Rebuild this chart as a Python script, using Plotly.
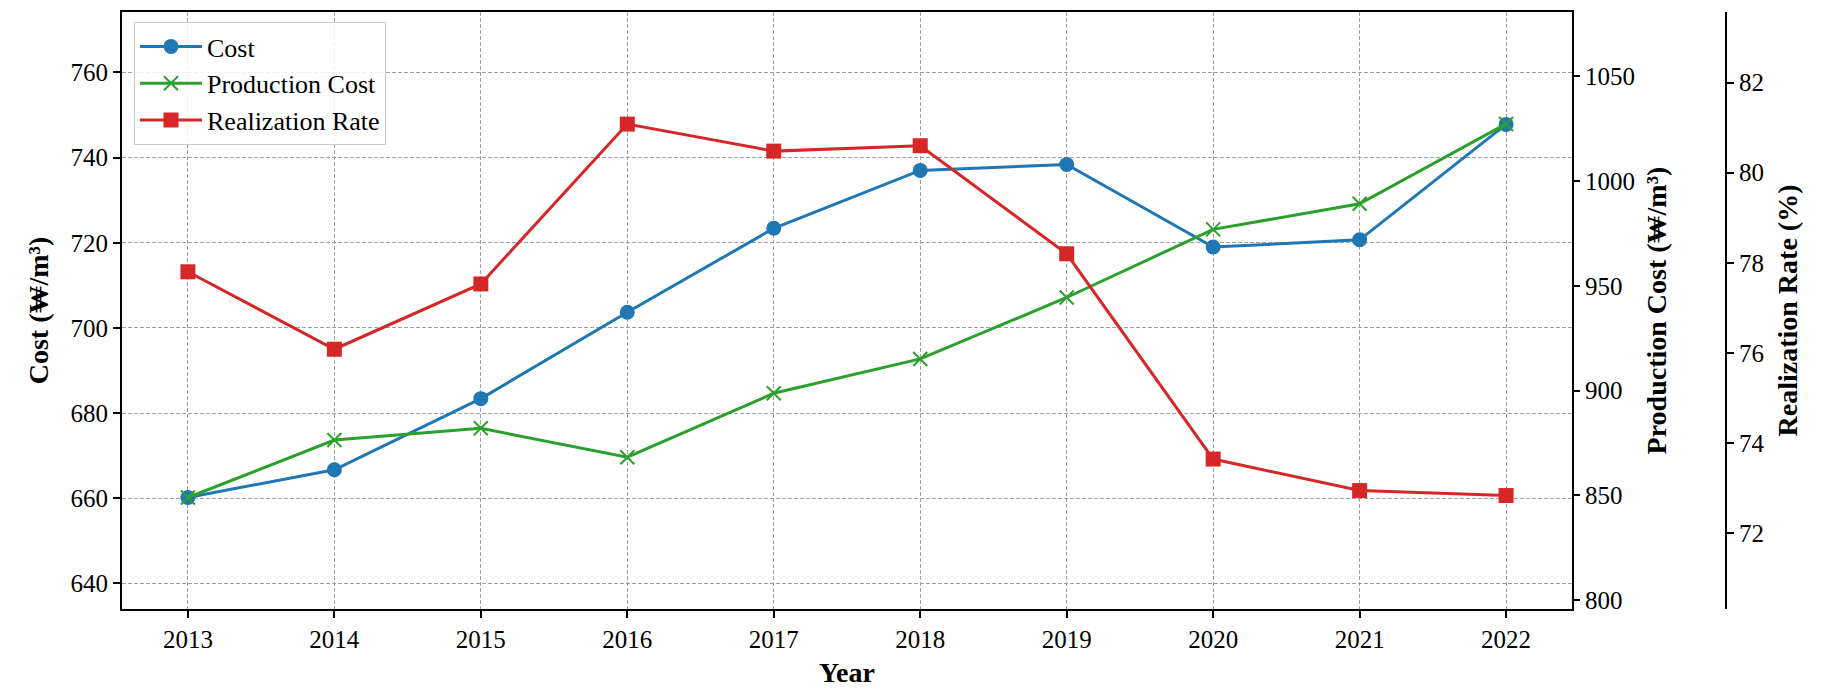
import plotly.graph_objects as go

years = [2013, 2014, 2015, 2016, 2017, 2018, 2019, 2020, 2021, 2022]
cost = [660.2, 666.7, 683.4, 703.7, 723.4, 737.0, 738.4, 719.0, 720.7, 747.8]
production_cost = [849.0, 876.4, 882.0, 868.2, 898.7, 915.1, 944.4, 976.9, 989.1, 1027.2]
realization_rate = [77.80, 76.08, 77.53, 81.08, 80.48, 80.60, 78.20, 73.64, 72.94, 72.83]

cost_ticks = [640, 660, 680, 700, 720, 740, 760]
prod_ticks = [800, 850, 900, 950, 1000, 1050]
rate_ticks = [72, 74, 76, 78, 80, 82]

BLUE = "#1f77b4"
GREEN = "#2ca02c"
RED = "#d62728"
FONT = "Liberation Serif, Times New Roman, DejaVu Serif, serif"

# page body has an 8px default margin; size the figure so it fills the window
OFF = 8
W, H = 1834 - OFF, 693 - OFF
L = 122 - OFF
T = 12 - OFF
plot_right = 1572 - OFF
plot_bottom = 609 - OFF
R = 74
B = H - plot_bottom
pw = W - L - R
x_end = (plot_right - L) / pw
y3_pos = (1726 - OFF - L) / pw

fig = go.Figure()
fig.add_trace(go.Scatter(
    x=years, y=cost, name="Cost", mode="lines+markers",
    line=dict(color=BLUE, width=3),
    marker=dict(symbol="circle", size=15, color=BLUE),
    yaxis="y",
))
fig.add_trace(go.Scatter(
    x=years, y=production_cost, name="Production Cost", mode="lines+markers",
    line=dict(color=GREEN, width=3),
    marker=dict(symbol="x-thin", size=14, color=GREEN, line=dict(color=GREEN, width=2)),
    yaxis="y2",
))
fig.add_trace(go.Scatter(
    x=years, y=realization_rate, name="Realization Rate", mode="lines+markers",
    line=dict(color=RED, width=3),
    marker=dict(symbol="square", size=15, color=RED),
    yaxis="y3",
))

tickfont = dict(family=FONT, size=25, color="black")
titlefont = dict(family=FONT, size=28, color="black")
GRID = "#a0a0a0"
DASH = "4px,2px"

fig.update_layout(
    width=W, height=H,
    margin=dict(l=L, r=R, t=T, b=B, pad=0, autoexpand=False),
    paper_bgcolor="white", plot_bgcolor="white",
    font=dict(family=FONT, color="black"),
    showlegend=True,
    legend=dict(
        x=(134 - OFF - L) / pw, y=1 - (22 - OFF - T) / (H - T - B),
        xanchor="left", yanchor="top",
        bgcolor="rgba(255,255,255,0.85)", bordercolor="#cccccc", borderwidth=1,
        font=dict(family=FONT, size=26, color="black"),
        tracegroupgap=0, itemwidth=62,
    ),
    xaxis=dict(
        domain=[0, x_end],
        range=[2012.55, 2022.45],
        tickmode="array", tickvals=years, ticktext=[str(y) for y in years],
        ticks="outside", ticklen=7, tickwidth=1.5, tickcolor="black",
        showline=True, linecolor="black", linewidth=2, mirror=True,
        showgrid=True, gridcolor=GRID, gridwidth=1, griddash=DASH,
        zeroline=False, tickfont=tickfont, automargin=False,
        title=dict(text="<b>Year</b>", font=titlefont, standoff=10),
    ),
    yaxis=dict(
        range=[634.0, 774.2],
        tickmode="array", tickvals=cost_ticks,
        ticks="outside", ticklen=7, tickwidth=1.5, tickcolor="black",
        showline=True, linecolor="black", linewidth=2, mirror=True,
        showgrid=True, gridcolor=GRID, gridwidth=1, griddash=DASH,
        zeroline=False, tickfont=tickfont, automargin=False,
        title=dict(text="<b>Cost (₩/m³)</b>", font=titlefont, standoff=14),
    ),
    yaxis2=dict(
        range=[795.8, 1080.6],
        overlaying="y", side="right", anchor="x",
        tickmode="array", tickvals=prod_ticks,
        ticks="outside", ticklen=7, tickwidth=1.5, tickcolor="black",
        showline=False, showgrid=False, zeroline=False, tickfont=tickfont,
        automargin=False,
        title=dict(text="<b>Production Cost (₩/m³)</b>", font=titlefont, standoff=12),
    ),
    yaxis3=dict(
        range=[70.31, 83.57],
        overlaying="y", side="right", anchor="free", position=y3_pos,
        tickmode="array", tickvals=rate_ticks,
        ticks="outside", ticklen=7, tickwidth=1.5, tickcolor="black",
        showline=True, linecolor="black", linewidth=2,
        showgrid=False, zeroline=False, tickfont=tickfont, automargin=False,
        title=dict(text="<b>Realization Rate (%)</b>", font=titlefont, standoff=13),
    ),
)

fig.write_html("out.html")
